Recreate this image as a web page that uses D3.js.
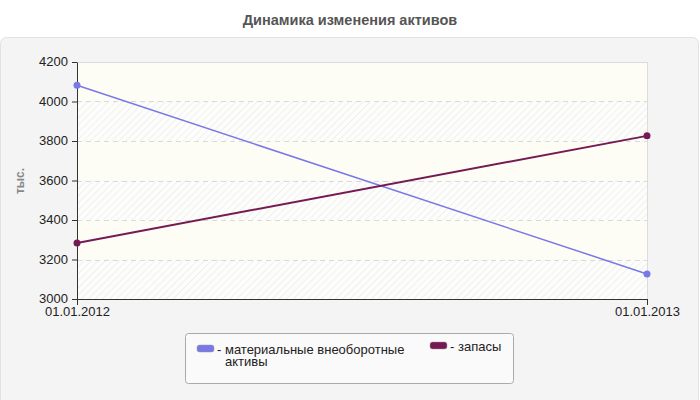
<!DOCTYPE html>
<html>
<head>
<meta charset="utf-8">
<script src="https://cdn.jsdelivr.net/npm/d3@7"></script>
<style>
  body { margin: 0; background: #fff; }
  svg { font-family: "Liberation Sans", Arial, sans-serif; }
</style>
</head>
<body>
<svg id="chart" width="700" height="400"></svg>
<script>
// *** Data ***
var dates = ["01.01.2012", "01.01.2013"];
var seriesNames = ["материальные внеоборотные активы", "запасы"];
var seriesColors = ["#7878e6", "#751a52"];
var fixedAssets = [4082, 3127];
var stocks = [3284, 3826];
var yTicks = [3000, 3200, 3400, 3600, 3800, 4000, 4200];

var series = [fixedAssets, stocks];

var svg = d3.select("#chart");

// title
svg.append("text")
    .attr("x", 350).attr("y", 25)
    .attr("text-anchor", "middle")
    .attr("font-size", 14.5).attr("font-weight", "bold")
    .attr("fill", "#555")
    .text("Динамика изменения активов");

// panel
svg.append("rect")
    .attr("x", 0.5).attr("y", 37.5)
    .attr("width", 698).attr("height", 370)
    .attr("rx", 6)
    .attr("fill", "#f4f4f4")
    .attr("stroke", "#e2e2e2");

var margin = {top: 62, left: 77, right: 53, bottom: 101},
    width = 700 - margin.left - margin.right,
    height = 400 - margin.top - margin.bottom;

var x = d3.scalePoint().domain(dates).range([0, width]);
var y = d3.scaleLinear().domain([3000, 4200]).range([height, 0]);

// hatch pattern
var defs = svg.append("defs");
var pat = defs.append("pattern")
    .attr("id", "hatch")
    .attr("patternUnits", "userSpaceOnUse")
    .attr("width", 5).attr("height", 5)
    .attr("patternTransform", "rotate(45)");
pat.append("rect").attr("width", 5).attr("height", 5).attr("fill", "#fdfdfb");
pat.append("line").attr("x1", 0).attr("y1", 0).attr("x2", 0).attr("y2", 5)
    .attr("stroke", "#ececea").attr("stroke-width", 1.5);

var g = svg.append("g")
    .attr("transform", "translate(" + margin.left + "," + margin.top + ")");

// background bands
var bands = yTicks.slice(0, -1);
g.selectAll(".band").data(bands).enter().append("rect")
    .attr("class", "band")
    .attr("x", 0)
    .attr("width", width)
    .attr("y", d => y(d + 200))
    .attr("height", d => y(d) - y(d + 200))
    .attr("fill", (d, i) => i % 2 === 0 ? "url(#hatch)" : "#fdfdf6");

// frame top/right
g.append("line").attr("x1", 0).attr("x2", width).attr("y1", 0.5).attr("y2", 0.5)
    .attr("stroke", "#dcdcdc");
g.append("line").attr("x1", width + 0.5).attr("x2", width + 0.5).attr("y1", 0).attr("y2", height)
    .attr("stroke", "#dcdcdc");

// grid
g.selectAll(".grid").data(yTicks.slice(1, -1)).enter().append("line")
    .attr("class", "grid")
    .attr("x1", 0).attr("x2", width)
    .attr("y1", d => Math.round(y(d)) + 0.5)
    .attr("y2", d => Math.round(y(d)) + 0.5)
    .attr("stroke", "#dadada")
    .attr("stroke-dasharray", "5,4");

// axes
var yAxisG = g.append("g")
    .call(d3.axisLeft(y).tickValues(yTicks).tickSize(5).tickSizeOuter(0).tickFormat(d3.format("d")));
var xAxisG = g.append("g")
    .attr("transform", "translate(0," + height + ")")
    .call(d3.axisBottom(x).tickSize(6).tickSizeOuter(0));

[yAxisG, xAxisG].forEach(function (a) {
    a.select(".domain").attr("stroke", "#333");
    a.selectAll(".tick line").attr("stroke", "#333");
    a.selectAll("text").attr("font-size", 13).attr("fill", "#222")
        .attr("font-family", "Liberation Sans, Arial, sans-serif");
});
yAxisG.selectAll("text").attr("dy", "0.3em").attr("x", -9);
xAxisG.selectAll("text").attr("y", 8);

// y label
svg.append("text")
    .attr("transform", "translate(24,181) rotate(-90)")
    .attr("text-anchor", "middle")
    .attr("font-size", 12).attr("font-weight", "bold")
    .attr("fill", "#888")
    .text("тыс.");

// lines
var lineMaker = d3.line()
    .x((d, i) => x(dates[i]))
    .y(d => y(d));

series.forEach(function (s, k) {
    g.append("path")
        .attr("d", lineMaker(s))
        .attr("fill", "none")
        .attr("stroke", seriesColors[k])
        .attr("stroke-width", k === 1 ? 2 : 1.5);
    g.selectAll(".dot" + k).data(s).enter().append("circle")
        .attr("cx", (d, i) => x(dates[i]))
        .attr("cy", d => y(d))
        .attr("r", 3.5)
        .attr("fill", seriesColors[k]);
});

// legend
var legend = svg.append("g");
legend.append("rect")
    .attr("x", 185.5).attr("y", 333.5)
    .attr("width", 328).attr("height", 50)
    .attr("rx", 3)
    .attr("fill", "#fafafa")
    .attr("stroke", "#aaa");

var legendItems = [
    {x: 197, y: 345, lines: ["- материальные внеоборотные", "активы"]},
    {x: 430, y: 342, lines: ["- запасы"]}
];
legendItems.forEach(function (it, k) {
    legend.append("rect")
        .attr("x", it.x).attr("y", it.y)
        .attr("width", 17).attr("height", 7)
        .attr("rx", 2.5)
        .attr("fill", seriesColors[k])
        .attr("stroke", "#999").attr("stroke-width", 0.5);
    var t = legend.append("text")
        .attr("font-size", 13).attr("fill", "#222");
    it.lines.forEach(function (line, j) {
        t.append("tspan")
            .attr("x", j === 0 ? it.x + 20 : it.x + 28)
            .attr("y", it.y + 9 + j * 12)
            .text(line);
    });
});
</script>
</body>
</html>
